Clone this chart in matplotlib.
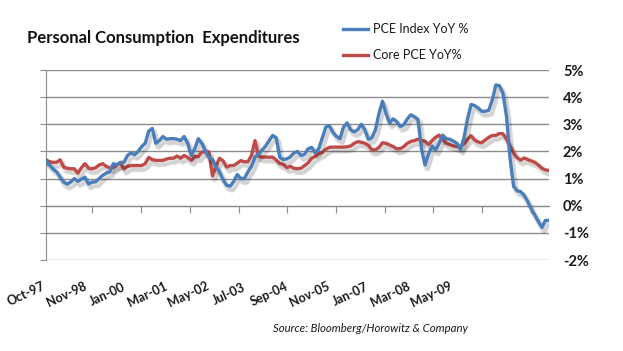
import matplotlib
matplotlib.use("Agg")
import matplotlib.pyplot as plt
import matplotlib.patheffects as pe
import numpy as np

# monthly YoY %, Oct-97 onwards
pce_index = [
    1.65, 1.50, 1.35, 1.25, 1.05, 0.87, 0.80, 0.88, 1.00, 0.90,
    0.98, 1.05, 0.80, 0.87, 0.88, 1.00, 1.12, 1.20, 1.25, 1.55,
    1.50, 1.60, 1.60, 1.85, 1.95, 1.88, 2.00, 2.18, 2.30, 2.75,
    2.85, 2.30, 2.40, 2.55, 2.45, 2.47, 2.47, 2.45, 2.40, 2.55,
    2.30, 1.85, 2.10, 2.47, 2.30, 2.02, 1.78, 1.70, 1.42, 1.25,
    0.95, 0.75, 0.72, 0.90, 1.15, 1.00, 1.00, 1.25, 1.45, 1.79,
    1.91, 2.05, 2.20, 2.40, 2.59, 2.50, 1.78, 1.70, 1.73, 1.80,
    1.95, 2.00, 1.85, 1.90, 2.10, 2.15, 1.95, 2.10, 2.50, 2.90,
    2.95, 2.70, 2.55, 2.47, 2.90, 3.05, 2.80, 2.72, 2.80, 3.00,
    2.80, 2.45, 2.50, 2.80, 3.40, 3.85, 3.40, 3.05, 3.20, 3.10,
    2.92, 2.98, 3.20, 3.35, 3.28, 3.18, 2.10, 1.50, 1.91, 2.20,
    2.05, 2.30, 2.60, 2.47, 2.45, 2.38, 2.30, 2.08, 2.50, 3.20,
    3.73, 3.69, 3.60, 3.48, 3.48, 3.52, 3.90, 4.45, 4.42, 4.15,
    3.30, 1.75, 0.72, 0.55, 0.52, 0.38, 0.15, -0.12, -0.35, -0.58,
    -0.80, -0.54, -0.54,
]
core_pce = [
    1.69, 1.62, 1.60, 1.60, 1.69, 1.42, 1.38, 1.36, 1.36, 1.20,
    1.40, 1.55, 1.38, 1.36, 1.40, 1.50, 1.55, 1.45, 1.40, 1.40,
    1.50, 1.58, 1.35, 1.45, 1.48, 1.48, 1.48, 1.48, 1.55, 1.78,
    1.70, 1.67, 1.67, 1.67, 1.72, 1.75, 1.75, 1.83, 1.75, 1.85,
    1.78, 1.67, 1.82, 1.80, 1.98, 1.98, 1.98, 1.10, 1.45, 1.75,
    1.65, 1.42, 1.48, 1.48, 1.57, 1.66, 1.62, 1.62, 1.85, 2.40,
    1.82, 1.79, 1.79, 1.79, 1.79, 1.68, 1.55, 1.52, 1.40, 1.45,
    1.38, 1.36, 1.38, 1.48, 1.58, 1.75, 1.82, 1.92, 1.96, 2.08,
    2.15, 2.16, 2.16, 2.16, 2.16, 2.17, 2.20, 2.30, 2.36, 2.34,
    2.30, 2.22, 2.06, 2.06, 2.15, 2.32, 2.30, 2.24, 2.18, 2.10,
    2.10, 2.18, 2.30, 2.37, 2.40, 2.45, 2.40, 2.38, 2.25, 2.40,
    2.52, 2.60, 2.45, 2.30, 2.25, 2.20, 2.18, 2.18, 2.28, 2.45,
    2.58, 2.42, 2.35, 2.32, 2.42, 2.52, 2.59, 2.59, 2.66, 2.65,
    2.45, 2.20, 1.95, 1.77, 1.68, 1.76, 1.70, 1.65, 1.60, 1.50,
    1.38, 1.32, 1.30,
]
date_labels = ["Oct-97", "Nov-98", "Jan-00", "Mar-01", "May-02", "Jul-03",
               "Sep-04", "Nov-05", "Jan-07", "Mar-08", "May-09"]
y_ticks = [-2, -1, 0, 1, 2, 3, 4, 5]

blue = "#4a7ebb"
red = "#be4b48"
grid_c = "#8c8c8c"
plt.rcParams["font.family"] = ["Lato", "DejaVu Sans"]

fig = plt.figure(figsize=(6.23, 3.51), dpi=100)
ax = fig.add_axes([46 / 623, 1 - 260 / 351, 503 / 623, 190 / 351])

x = np.arange(len(pce_index))
shadow = [pe.SimpleLineShadow(offset=(1.5, -2.5), shadow_color="black", alpha=0.1, linewidth=4.5),
          pe.SimpleLineShadow(offset=(2, -3), shadow_color="black", alpha=0.08, linewidth=2.5),
          pe.Normal()]
l1, = ax.plot(x, pce_index, color=blue, lw=2.4, label="PCE Index YoY %", path_effects=shadow, zorder=4)
l2, = ax.plot(x, core_pce, color=red, lw=2.4, label="Core PCE YoY%", path_effects=shadow, zorder=3)

ax.set_xlim(0, len(pce_index) - 1)
ax.set_ylim(-2, 5)
ax.set_yticks(y_ticks)
ax.set_yticklabels([f"{v}%" for v in y_ticks])
ax.yaxis.grid(True, color=grid_c, lw=1.0)
ax.set_axisbelow(True)

for s in ["top", "right"]:
    ax.spines[s].set_visible(False)
ax.spines["left"].set_color(grid_c)
ax.spines["bottom"].set_color(grid_c)
ax.spines["bottom"].set_position(("data", 0))

ax.tick_params(axis="y", left=True, right=False, labelleft=False, labelright=True,
               direction="out", length=4, color=grid_c, pad=6, labelsize=10.5)
for t in ax.get_yticklabels():
    t.set_fontweight("bold")
    t.set_color("#1a1a1a")

# x ticks sit on the zero line, roughly every 14 months
tick_pos = [13.1 + 13.75 * k for k in range(10)]
ax.set_xticks(tick_pos)
ax.tick_params(axis="x", direction="out", length=5, color=grid_c, labelbottom=False)

for k, lab in enumerate(date_labels):
    fig.text((26 + 40.5 * k) / 623, 1 - 294 / 351, lab, rotation=25, ha="center", va="center",
             fontsize=9, fontweight="bold", color="#1a1a1a")

fig.text(27 / 623, 1 - 38 / 351, "Personal Consumption  Expenditures", fontsize=12,
         fontweight="bold", ha="left", va="center", color="#111111")

leg = ax.legend(handles=[plt.Line2D([], [], color=blue, lw=2.4), plt.Line2D([], [], color=red, lw=2.4)],
                labels=[l1.get_label(), l2.get_label()],
                loc="upper left", bbox_to_anchor=(332 / 623, 1 - 12 / 351), bbox_transform=fig.transFigure,
                frameon=False, handlelength=2.0, handletextpad=0.4, labelspacing=1.1, fontsize=9)
for t in leg.get_texts():
    t.set_color("#1a1a1a")

fig.text(273 / 623, 1 - 328 / 351, "Source: Bloomberg/Horowitz & Company", fontsize=8.2,
         style="italic", ha="left", va="center", color="#1a1a1a")

fig.savefig("out.png", dpi=100)
